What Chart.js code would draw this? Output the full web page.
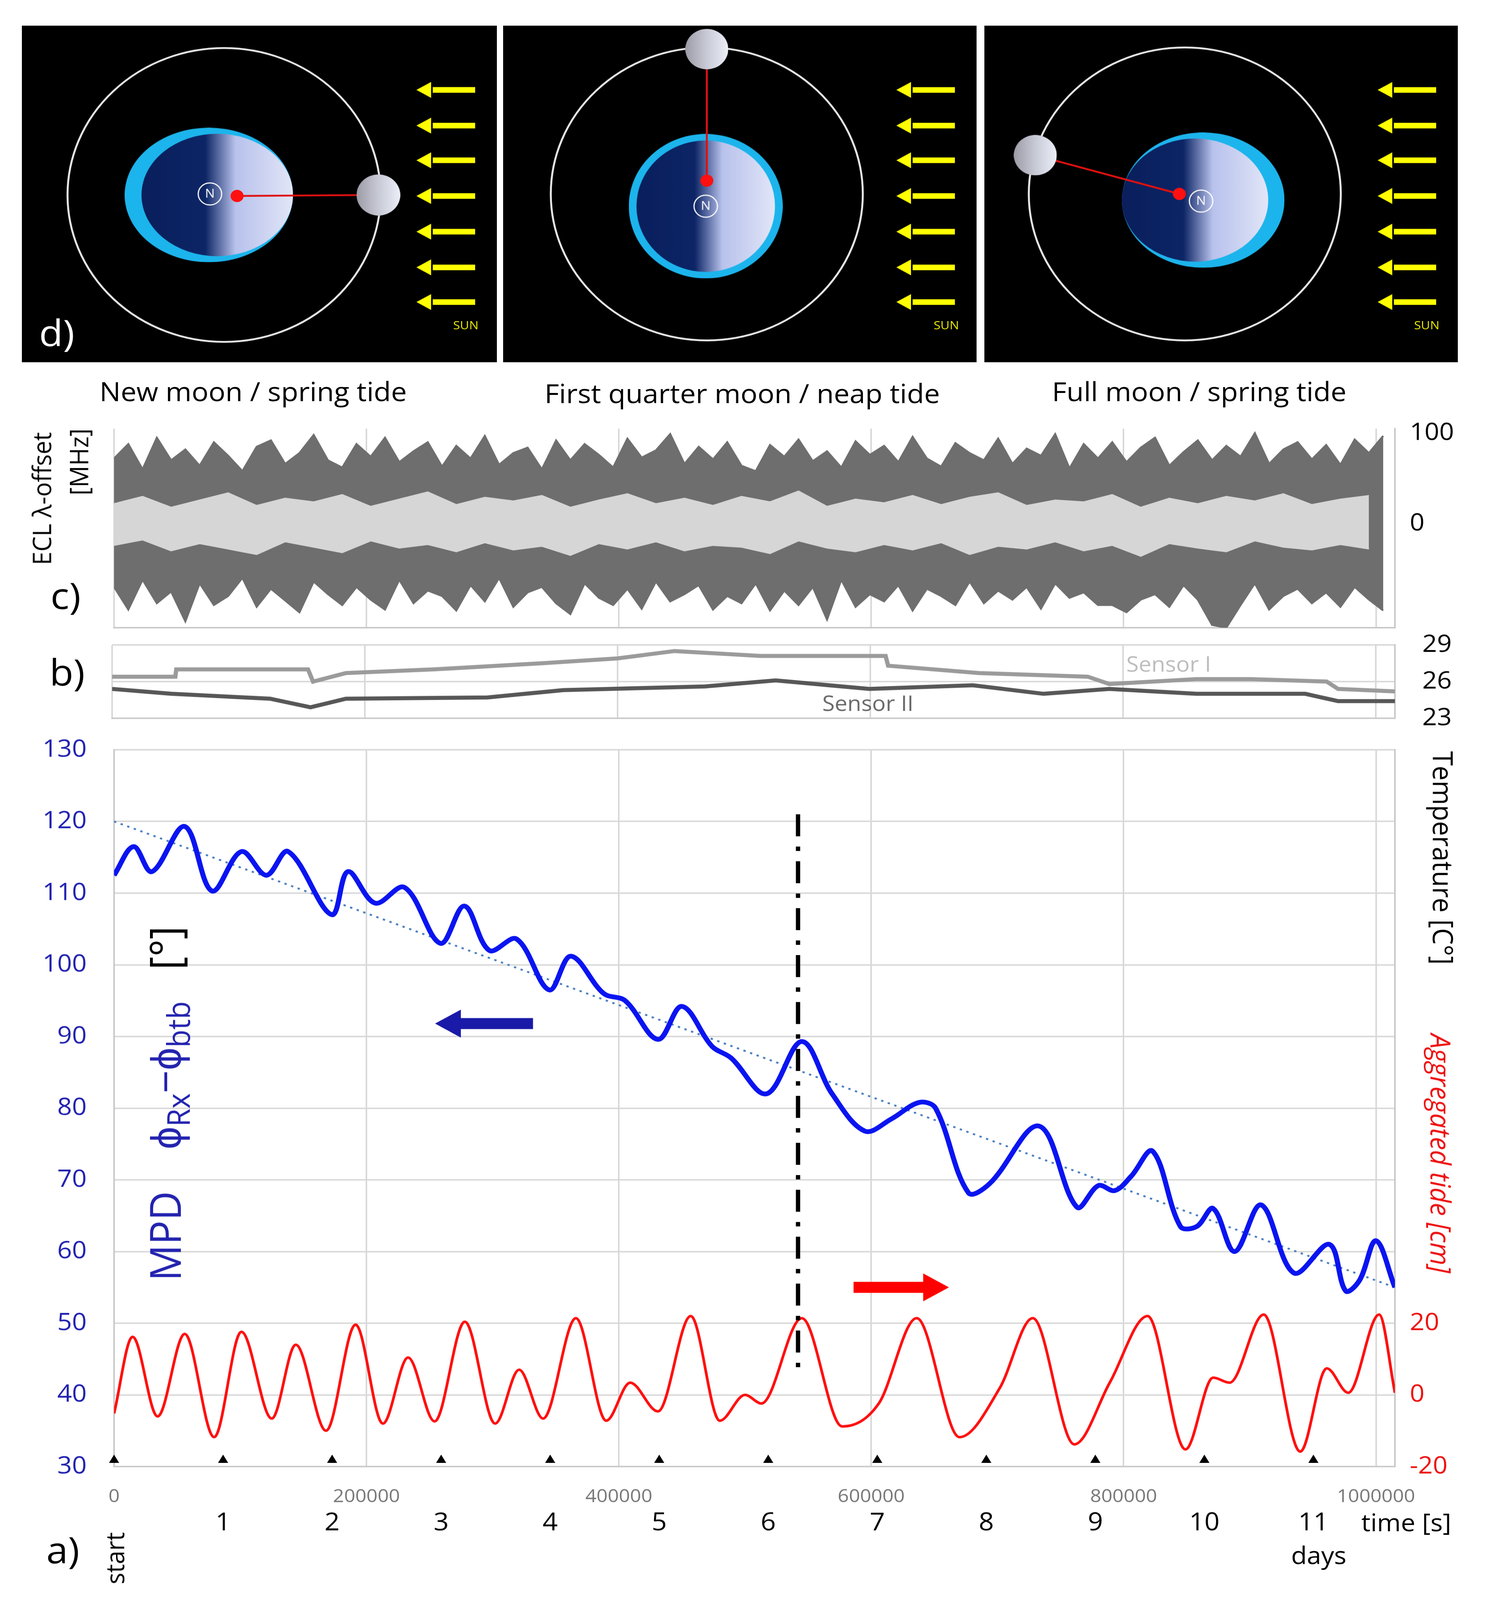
<!DOCTYPE html>
<html>
<head>
<meta charset="utf-8">
<script src="https://cdn.jsdelivr.net/npm/chart.js@4.4.1/dist/chart.umd.min.js"></script>
<style>
  html, body { margin: 0; background: #fff; overflow: hidden; }
  #page { width: 3840px; height: 4364px; position: relative; transform-origin: 0 0; font-family: 'Open Sans', sans-serif; }
  canvas { position: absolute; }
  .txt { position: absolute; white-space: nowrap; line-height: 1; }
  .rot { transform: translate(-50%, -50%) rotate(-90deg); }
  .rot90 { transform: translate(-50%, -50%) rotate(90deg); }
  .ctr { transform: translate(-50%, -50%); }
</style>
</head>
<body>
<div id="page">
<canvas id="d1" width="1216" height="918" style="left:56px;top:70px;background:#000"></canvas>
<canvas id="d2" width="1212" height="918" style="left:1288px;top:70px;background:#000"></canvas>
<canvas id="d3" width="1212" height="918" style="left:2520px;top:70px;background:#000"></canvas>
<canvas id="cc" width="3840" height="580" style="left:0;top:1150px"></canvas>
<canvas id="cb" width="3840" height="280" style="left:0;top:1700px"></canvas>
<canvas id="ca" width="3840" height="2364" style="left:0;top:2000px"></canvas>

<div class="txt" style="left:100px;top:855px;color:#fff;font-size:100px">d)</div>
<div class="txt" style="left:1160px;top:870px;color:#e8e800;font-size:32px">SUN</div>
<div class="txt" style="left:2390px;top:870px;color:#e8e800;font-size:32px">SUN</div>
<div class="txt" style="left:3620px;top:870px;color:#e8e800;font-size:32px">SUN</div>
<div class="txt ctr" style="left:648px;top:1066px;font-size:72px">New moon / spring tide</div>
<div class="txt ctr" style="left:1900px;top:1072px;font-size:72px">First quarter moon / neap tide</div>
<div class="txt ctr" style="left:3070px;top:1066px;font-size:72px">Full moon / spring tide</div>

<div class="txt rot" style="left:105px;top:1360px;font-size:66px">ECL λ-offset</div>
<div class="txt rot" style="left:200px;top:1260px;font-size:66px">[MHz]</div>
<div class="txt ctr" style="left:168px;top:1622px;font-size:100px">c)</div>
<div class="txt ctr" style="left:172px;top:1831px;font-size:100px">b)</div>

<div class="txt rot" style="left:430px;top:3010px;font-size:110px;color:#2323b0">MPD&nbsp;&nbsp;&nbsp;&nbsp;ϕ<sub style="font-size:80px">Rx</sub>−ϕ<sub style="font-size:80px">btb</sub>&nbsp;&nbsp;&nbsp;<span style="color:#000">[°]</span></div>
<div class="txt rot90" style="left:3696px;top:2340px;font-size:72px">Temperature [C°]</div>
<div class="txt rot90" style="left:3690px;top:3146px;font-size:72px;color:#ee1111;font-style:italic">Aggregated tide [cm]</div>
<div class="txt ctr" style="left:3600px;top:4150px;font-size:66px">time [s]</div>
<div class="txt ctr" style="left:3376px;top:4240px;font-size:66px">days</div>
<div class="txt ctr" style="left:161px;top:4225px;font-size:100px">a)</div>
<div class="txt rot" style="left:292px;top:4250px;font-size:66px">start</div>
</div>

<script>
// ---------- panel d: moon positions (panel units, 437 x 330) ----------
const panelW = 437, panelH = 330;
const orbitCenters = [[186, 166], [188, 165], [185, 165]];
const orbitRadius = 144;
const earthCenters = [[172, 166], [187, 177], [202, 171]];
const earthSizes = [[155, 132], [142, 142], [150, 133]];
const earthRim = [-1, 0, 1];
const northPoles = [[173, 165], [187, 177], [200, 172]];
const barycenters = [[198, 167], [188, 152], [180, 165]];
const moons = [[328, 166], [188, 23], [47, 127]];
const moonRadius = 20;
const arrowY = [63, 98, 132, 167, 202, 237, 271];
const arrowX = [372, 417];

// ---------- panel c: ECL offset envelope [MHz] ----------
const noiseStep = 11300;
const noiseUpper = [72,88,60,95,70,82,64,90,75,58,85,92,66,78,98,70,62,88,74,95,68,80,90,63,86,72,97,65,78,84,60,92,70,88,76,62,94,73,81,99,66,85,71,90,64,58,87,74,93,69,80,62,91,76,86,68,96,72,63,89,78,70,94,66,83,75,99,61,88,72,90,68,84,95,64,79,92,70,86,74,100,66,82,90,71,87,65,93,78,97];
const noiseLower = [-70,-95,-62,-88,-75,-108,-66,-90,-80,-60,-92,-72,-85,-98,-64,-78,-90,-70,-84,-95,-62,-88,-74,-80,-96,-68,-86,-60,-92,-76,-70,-88,-100,-66,-82,-90,-72,-94,-64,-86,-78,-68,-95,-80,-88,-66,-96,-74,-90,-70,-106,-62,-92,-78,-86,-68,-96,-72,-80,-90,-64,-88,-74,-84,-70,-94,-66,-82,-76,-90,-90,-98,-84,-78,-92,-68,-84,-112,-115,-90,-66,-95,-80,-72,-88,-76,-92,-70,-84,-96];
const bandUpper = [22,30,18,26,34,20,28,24,32,19,27,35,21,29,25,31,18,26,33,22,28,20,30,24,36,19,27,23,31,21,29,34,20,26,24,32,18,28,22,30,25,33,21,27,31];
const bandLower = [-24,-18,-30,-22,-28,-34,-20,-26,-32,-19,-27,-23,-31,-21,-29,-25,-35,-22,-28,-20,-30,-24,-26,-33,-19,-27,-31,-23,-29,-21,-34,-25,-28,-20,-30,-24,-36,-22,-27,-31,-19,-26,-29,-23,-28];

// ---------- panel b: temperature [°C] ----------
const sensor1 = [[0,26.4],[50000,26.4],[50800,27],[155000,27],[159000,26],[185000,26.7],[254000,27],[340000,27.5],[400000,27.9],[445000,28.5],[513000,28.1],[612000,28.1],[614000,27.3],[686000,26.7],[772000,26.4],[789000,25.8],[858000,26.2],[901000,26.2],[961000,26.0],[970000,25.4],[1015000,25.2]];
const sensor2 = [[0,25.4],[47000,25],[125000,24.6],[157000,23.9],[185000,24.6],[297000,24.7],[357000,25.3],[469000,25.6],[525000,26.1],[599000,25.4],[681000,25.7],[737000,25],[789000,25.4],[858000,25],[944000,25],[970000,24.4],[1015000,24.4]];
const tempTicks = [23, 26, 29];

// ---------- panel a: MPD [°] and tide [cm] ----------
const mpdTime = [0,15500,30000,56000,77600,100900,120700,138000,172400,185300,206900,230200,258600,277600,297400,319000,344800,362000,388000,405000,431000,450000,474000,489000,517000,545000,569000,595000,616000,638000,651000,677000,694000,733000,763000,780000,793000,806000,823000,845000,858000,871000,888000,909000,935000,963000,976000,987000,1000000,1015000];
const mpdValue = [112.5,116.5,113,119.3,110.3,115.8,112.5,115.8,107,113,108.6,110.8,103,108.2,102,103.6,96.5,101.2,96,95,89.6,94.2,88.6,87,82,89.3,82,76.8,78.5,80.8,80,68.2,69.5,77.5,66.2,69.2,68.5,70.5,74,63.5,63.5,66,60,66.5,57,61,54.5,56,61.5,55];
const trendTime = [0, 1015000];
const trendValue = [120, 55];
const tideTime = [0,14700,34500,56000,79300,100900,125000,144000,168000,191400,213000,233000,254000,278000,302000,321000,340000,366000,390000,409000,431000,457000,480000,500000,513000,545000,577000,606000,636000,670000,702000,728000,761000,789000,819000,849000,871000,884000,911000,940000,961000,978000,1002500,1015000];
const tideValue = [-5.2,16.2,-6,17,-11.8,17.6,-6.6,14,-10,19.6,-8,10.4,-7.4,20.4,-8,7,-6.6,21.4,-7.2,3.4,-4.6,22,-7.2,0,-2.4,21.4,-8.8,-2.4,21.4,-11.8,2,21.4,-13.8,3.4,22,-15.2,4.8,3.4,22.4,-15.8,7.4,0.6,22.4,0.6];
const dayNumbers = [0,1,2,3,4,5,6,7,8,9,10,11];
const secondsPerDay = 86400;
const timeTicks = [0, 200000, 400000, 600000, 800000, 1000000];
const markerTime = 542000;
const markerRange = [121, 43];
const leftArrow = [[332000, 91.8], [268000, 91.8]];
const rightArrow = [[586000, 55], [648000, 55]];

const xMax = 1015000;
const FONT = 'Open Sans';
Chart.defaults.font.family = FONT;
Chart.defaults.animation = false;

// fit the 3840x4364 page into the visible window
const page = document.getElementById('page');
const sx0 = window.innerWidth / 3840, sy0 = window.innerHeight / 4364;
if (sx0 < 0.999 || sy0 < 0.999) page.style.transform = `scale(${Math.min(sx0, 1)}, ${Math.min(sy0, 1)})`;

const pts = (xs, ys) => xs.map((x, i) => ({x: x, y: ys[i]}));
const pairs = arr => arr.map(p => ({x: p[0], y: p[1]}));
const baseOpts = {responsive: false, devicePixelRatio: 1};

// ---------- panel d ----------
function makeEarth(w, h, rim) {
    const c = document.createElement('canvas');
    c.width = w; c.height = h;
    const g = c.getContext('2d');
    g.fillStyle = '#1cb4ec';
    g.beginPath(); g.ellipse(w/2, h/2, w/2, h/2, 0, 0, Math.PI*2); g.fill();
    const off = -rim * w * 0.05;
    const iw = w/2 * 0.9, ih = h/2 * 0.91;
    const grad = g.createLinearGradient(w/2 + off - iw, 0, w/2 + off + iw, 0);
    grad.addColorStop(0, '#0a1f5c');
    grad.addColorStop(0.42, '#0d2566');
    grad.addColorStop(0.62, '#b8c2ec');
    grad.addColorStop(1, '#e2e6f8');
    g.fillStyle = grad;
    g.beginPath(); g.ellipse(w/2 + off, h/2, iw, ih, 0, 0, Math.PI*2); g.fill();
    return c;
}
function makeMoon(r) {
    const c = document.createElement('canvas');
    c.width = 2*r; c.height = 2*r;
    const g = c.getContext('2d');
    const grad = g.createLinearGradient(0, 0, 2*r, 0);
    grad.addColorStop(0, '#9c9ca6');
    grad.addColorStop(0.5, '#c8cad6');
    grad.addColorStop(1, '#eceef8');
    g.fillStyle = grad;
    g.beginPath(); g.arc(r, r, r, 0, Math.PI*2); g.fill();
    return c;
}
function makePole(r) {
    const c = document.createElement('canvas');
    c.width = 2*r; c.height = 2*r;
    const g = c.getContext('2d');
    g.strokeStyle = '#fff'; g.lineWidth = 3;
    g.beginPath(); g.arc(r, r, r - 3, 0, Math.PI*2); g.stroke();
    g.fillStyle = '#fff'; g.font = `${Math.round(r)}px ${FONT}`;
    g.textAlign = 'center'; g.textBaseline = 'middle';
    g.fillText('N', r, r + 1);
    return c;
}

['d1', 'd2', 'd3'].forEach((id, p) => {
    const canvas = document.getElementById(id);
    const k = canvas.width / panelW;
    const xy = a => [{x: a[0], y: a[1]}];
    const datasets = [
        {data: xy(barycenters[p]), pointRadius: 6*k, backgroundColor: '#ff1010', borderWidth: 0},
        {data: xy(northPoles[p]), pointStyle: makePole(Math.round(12*k))},
        {data: xy(moons[p]), pointStyle: makeMoon(Math.round(moonRadius*k))},
        {data: [xy(barycenters[p])[0], xy(moons[p])[0]], showLine: true, borderColor: '#e01010', borderWidth: 5, pointRadius: 0},
        {data: xy(earthCenters[p]), pointStyle: makeEarth(Math.round(earthSizes[p][0]*k), Math.round(earthSizes[p][1]*k), earthRim[p])},
        {data: xy(orbitCenters[p]), pointRadius: orbitRadius*k, borderColor: '#e6e6e6', borderWidth: 5, backgroundColor: 'rgba(0,0,0,0)'},
        {data: arrowY.map(y => ({x: arrowX[0], y: y})), pointStyle: 'triangle', rotation: 270, pointRadius: 9*k, backgroundColor: '#ffff00', borderWidth: 0}
    ];
    arrowY.forEach(y => datasets.push({data: [{x: arrowX[0] + 6, y: y}, {x: arrowX[1], y: y}], showLine: true, borderColor: '#ffff00', borderWidth: 5.5*k, pointRadius: 0}));
    datasets.forEach(ds => { ds.clip = false; });
    new Chart(canvas, {
        type: 'scatter',
        data: {datasets: datasets},
        options: {
            ...baseOpts,
            layout: {padding: 0, autoPadding: false},
            plugins: {legend: {display: false}, tooltip: {enabled: false}},
            scales: {
                x: {type: 'linear', min: 0, max: panelW, display: false},
                y: {type: 'linear', min: 0, max: panelH, reverse: true, display: false}
            },
            elements: {point: {hoverRadius: 0}}
        }
    });
});

// force axis sizes so chart areas line up with the reference
const fixW = w => (s => { s.width = w; s.paddingTop = 0; s.paddingBottom = 0; });
const fixH = h => (s => { s.height = h; s.paddingLeft = 0; s.paddingRight = 0; });
const gridX = () => ({
    type: 'linear', min: 0, max: xMax,
    grid: {color: '#d8d8d8', lineWidth: 4, drawTicks: false},
    border: {color: '#c8c8c8', width: 4},
    ticks: {display: false},
    afterBuildTicks: s => { s.ticks = timeTicks.map(v => ({value: v})); },
    afterFit: fixH(0)
});

// ---------- panel c ----------
new Chart(document.getElementById('cc'), {
    type: 'scatter',
    data: {datasets: [
        {data: bandUpper.map((v, i) => ({x: i * noiseStep * 2, y: v})), showLine: true, borderColor: '#d6d6d6', borderWidth: 3, pointRadius: 0},
        {data: bandLower.map((v, i) => ({x: i * noiseStep * 2, y: v})), showLine: true, borderColor: '#d6d6d6', borderWidth: 3, pointRadius: 0, fill: '-1', backgroundColor: '#d6d6d6'},
        {data: noiseUpper.map((v, i) => ({x: i * noiseStep, y: v})), showLine: true, borderColor: '#6e6e6e', borderWidth: 5, pointRadius: 0},
        {data: noiseLower.map((v, i) => ({x: i * noiseStep, y: v})), showLine: true, borderColor: '#6e6e6e', borderWidth: 5, pointRadius: 0, fill: '-1', backgroundColor: '#6e6e6e'}
    ]},
    options: {
        ...baseOpts,
        layout: {padding: {left: 292, top: 19, bottom: 18}, autoPadding: false},
        plugins: {legend: {display: false}, tooltip: {enabled: false}, filler: {drawTime: 'beforeDatasetsDraw'}},
        scales: {
            x: gridX(),
            y: {
                position: 'right', min: -115, max: 105,
                grid: {display: false},
                border: {color: '#c8c8c8', width: 4},
                ticks: {color: '#000', font: {size: 66}, padding: 30},
                afterBuildTicks: s => { s.ticks = [{value: 0}, {value: 100}]; },
                afterFit: fixW(269)
            }
        }
    }
});

// ---------- panel b ----------
new Chart(document.getElementById('cb'), {
    type: 'scatter',
    data: {datasets: [
        {data: pairs(sensor1), showLine: true, borderColor: '#9b9b9b', borderWidth: 11, pointRadius: 0},
        {data: pairs(sensor2), showLine: true, borderColor: '#575757', borderWidth: 11, pointRadius: 0}
    ]},
    options: {
        ...baseOpts,
        layout: {padding: {left: 287, top: 59, bottom: 21}, autoPadding: false},
        plugins: {legend: {display: false}, tooltip: {enabled: false}},
        scales: {
            x: gridX(),
            y: {
                position: 'right', min: 23, max: 29,
                grid: {color: '#d8d8d8', lineWidth: 4, drawTicks: false},
                border: {color: '#c8c8c8', width: 4},
                ticks: {color: '#000', font: {size: 66}, padding: 70, autoSkip: false},
                afterBuildTicks: s => { s.ticks = tempTicks.map(v => ({value: v})); },
                afterFit: fixW(269)
            }
        }
    },
    plugins: [{
        id: 'sensorLabels',
        afterDatasetsDraw(chart) {
            const g = chart.ctx, sx = chart.scales.x, sy = chart.scales.y;
            g.save();
            g.font = `58px ${FONT}`; g.textAlign = 'center'; g.textBaseline = 'middle';
            g.fillStyle = '#bdbdbd';
            g.fillText('Sensor I', sx.getPixelForValue(836000), sy.getPixelForValue(27.3));
            g.fillStyle = '#6a6a6a';
            g.fillText('Sensor II', sx.getPixelForValue(598000), sy.getPixelForValue(24.1));
            g.restore();
        }
    }]
});

// ---------- panel a ----------
new Chart(document.getElementById('ca'), {
    type: 'scatter',
    data: {datasets: [
        {data: dayNumbers.map(d => ({x: d * secondsPerDay, y: 30.9})), pointStyle: 'triangle', pointRadius: 15, backgroundColor: '#000', borderWidth: 0, clip: false},
        {data: [{x: markerTime, y: markerRange[0]}, {x: markerTime, y: markerRange[1]}], showLine: true, borderColor: '#000', borderWidth: 11, borderDash: [60, 28, 12, 28], pointRadius: 0},
        {data: [pairs(leftArrow)[1]], pointStyle: 'triangle', rotation: 270, pointRadius: 44, backgroundColor: '#1a1aa8', borderWidth: 0},
        {data: pairs(leftArrow), showLine: true, borderColor: '#1a1aa8', borderWidth: 30, pointRadius: 0},
        {data: [pairs(rightArrow)[1]], pointStyle: 'triangle', rotation: 90, pointRadius: 44, backgroundColor: '#ff0000', borderWidth: 0},
        {data: pairs(rightArrow), showLine: true, borderColor: '#ff0000', borderWidth: 30, pointRadius: 0},
        {data: pts(mpdTime, mpdValue), showLine: true, borderColor: '#0a14f0', borderWidth: 13, pointRadius: 0, tension: 0.35},
        {data: pts(trendTime, trendValue), showLine: true, borderColor: '#4a7fc0', borderWidth: 5, borderDash: [6, 12], pointRadius: 0},
        {data: pts(tideTime, tideValue), yAxisID: 'y2', showLine: true, borderColor: '#ff1010', borderWidth: 7, pointRadius: 0, cubicInterpolationMode: 'monotone'}
    ]},
    options: {
        ...baseOpts,
        layout: {padding: {top: 45}, autoPadding: false},
        plugins: {legend: {display: false}, tooltip: {enabled: false}},
        scales: {
            x: {
                type: 'linear', min: 0, max: xMax,
                grid: {color: '#d8d8d8', lineWidth: 4, drawTicks: false},
                border: {color: '#c8c8c8', width: 4},
                ticks: {display: false},
                afterBuildTicks: s => { s.ticks = timeTicks.map(v => ({value: v})); },
                afterFit: fixH(364)
            },
            y: {
                min: 30, max: 130,
                grid: {color: '#d8d8d8', lineWidth: 4, drawTicks: false},
                border: {color: '#c8c8c8', width: 4},
                ticks: {stepSize: 10, color: '#2323b0', font: {size: 66}, padding: 70},
                afterFit: fixW(292)
            },
            y2: {
                position: 'right', min: -20, max: 180,
                grid: {display: false},
                border: {color: '#c8c8c8', width: 4},
                ticks: {color: '#ee1111', font: {size: 66}, padding: 30},
                afterBuildTicks: s => { s.ticks = [{value: -20}, {value: 0}, {value: 20}]; },
                afterFit: fixW(269)
            }
        }
    },
    plugins: [{
        id: 'timeLabels',
        afterDraw(chart) {
            const g = chart.ctx, sx = chart.scales.x, bottom = chart.chartArea.bottom;
            g.save();
            g.textAlign = 'center'; g.textBaseline = 'middle';
            g.font = `50px ${FONT}`; g.fillStyle = '#777';
            timeTicks.forEach(v => g.fillText(String(v), sx.getPixelForValue(v), bottom + 83));
            g.font = `68px ${FONT}`; g.fillStyle = '#000';
            dayNumbers.slice(1).forEach(d => g.fillText(String(d), sx.getPixelForValue(d * secondsPerDay), bottom + 155));
            g.restore();
        }
    }]
});
</script>
</body>
</html>
